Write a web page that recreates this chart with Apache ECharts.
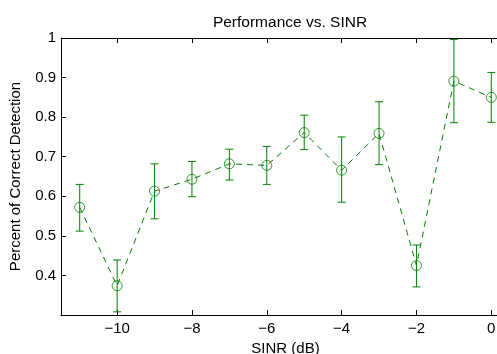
<!DOCTYPE html>
<html>
<head>
<meta charset="utf-8">
<script src="https://cdn.jsdelivr.net/npm/echarts@6/dist/echarts.min.js"></script>
<style>
html,body{margin:0;padding:0;background:#fff;}
#chart{width:497px;height:354px;}
</style>
</head>
<body>
<div id="chart"></div>
<script>
// Data
var sinr = [-11, -10, -9, -8, -7, -6, -5, -4, -3, -2, -1, 0];
var meanDetection = [0.572, 0.374, 0.613, 0.643, 0.682, 0.678, 0.761, 0.666, 0.759, 0.425, 0.891, 0.850];
var upperBound = [0.630, 0.439, 0.682, 0.688, 0.719, 0.726, 0.805, 0.750, 0.839, 0.477, 0.996, 0.913];
var lowerBound = [0.512, 0.308, 0.543, 0.599, 0.641, 0.630, 0.718, 0.585, 0.680, 0.371, 0.786, 0.787];
var xTickValues = [-10, -8, -6, -4, -2, 0];
var yTickValues = [0.4, 0.5, 0.6, 0.7, 0.8, 0.9, 1];

var GREEN = '#008000';
var FONT = 'Liberation Sans';

var lineData = sinr.map(function (x, i) { return [x, meanDetection[i]]; });
var errData = sinr.map(function (x, i) { return [x, lowerBound[i], upperBound[i]]; });

function fmtX(v) { return String(v).replace('-', '\u2212'); }
function fmtY(v) {
  var r = Math.round(v * 10) / 10;
  if (yTickValues.indexOf(r) < 0) return '';
  return r === 1 ? '1' : r.toFixed(1);
}

var chart = echarts.init(document.getElementById('chart'), null, {renderer: 'canvas'});
chart.setOption({
  animation: false,
  backgroundColor: '#fff',
  title: {
    text: 'Performance vs. SINR',
    left: 285,
    top: 10,
    textAlign: 'center',
    textStyle: {fontFamily: FONT, fontSize: 15.5, fontWeight: 'normal', color: '#000'}
  },
  grid: {left: 61, top: 38, right: -13, bottom: 39, containLabel: false, outerBoundsMode: 'none'},
  xAxis: [{
    type: 'value', min: -11.5, max: 0.5, position: 'bottom',
    name: 'SINR (dB)', nameLocation: 'middle', nameGap: 24,
    nameTextStyle: {fontFamily: FONT, fontSize: 15, color: '#000'},
    axisLine: {show: true, onZero: false, lineStyle: {color: '#000', width: 1}},
    axisTick: {show: true, inside: true, length: 5, customValues: xTickValues, lineStyle: {color: '#000'}},
    axisLabel: {show: true, customValues: xTickValues, formatter: fmtX, margin: 6,
      fontFamily: FONT, fontSize: 15, color: '#000'},
    splitLine: {show: false}
  }, {
    type: 'value', min: -11.5, max: 0.5, position: 'top',
    axisLine: {show: true, onZero: false, lineStyle: {color: '#000', width: 1}},
    axisTick: {show: true, inside: true, length: 5, customValues: xTickValues, lineStyle: {color: '#000'}},
    axisLabel: {show: false},
    splitLine: {show: false}
  }],
  yAxis: [{
    type: 'value', min: 0.3, max: 1, interval: 0.1, position: 'left',
    name: 'Percent of Correct Detection', nameLocation: 'middle', nameGap: 38,
    nameTextStyle: {fontFamily: FONT, fontSize: 15, color: '#000'},
    axisLine: {show: true, onZero: false, lineStyle: {color: '#000', width: 1}},
    axisTick: {show: true, inside: true, length: 5, lineStyle: {color: '#000'}},
    axisLabel: {show: true, formatter: fmtY, margin: 5, fontFamily: FONT, fontSize: 15, color: '#000'},
    splitLine: {show: false}
  }, {
    type: 'value', min: 0.3, max: 1, interval: 0.1, position: 'right',
    axisLine: {show: true, onZero: false, lineStyle: {color: '#000', width: 1}},
    axisTick: {show: true, inside: true, length: 5, lineStyle: {color: '#000'}},
    axisLabel: {show: false},
    splitLine: {show: false}
  }],
  series: [{
    type: 'line',
    data: lineData,
    symbol: 'none',
    lineStyle: {color: GREEN, width: 1, type: [6, 5]},
    z: 2
  }, {
    type: 'custom',
    data: errData,
    encode: {x: 0, y: [1, 2]},
    renderItem: function (params, api) {
      var x = api.value(0);
      var lo = api.coord([x, api.value(1)]);
      var hi = api.coord([x, api.value(2)]);
      var hw = 4;
      var style = {stroke: GREEN, lineWidth: 1, fill: 'none'};
      return {
        type: 'group',
        children: [
          {type: 'line', shape: {x1: lo[0], y1: lo[1], x2: hi[0], y2: hi[1]}, style: style},
          {type: 'line', shape: {x1: lo[0] - hw, y1: lo[1], x2: lo[0] + hw, y2: lo[1]}, style: style},
          {type: 'line', shape: {x1: hi[0] - hw, y1: hi[1], x2: hi[0] + hw, y2: hi[1]}, style: style}
        ]
      };
    },
    z: 3
  }, {
    type: 'scatter',
    data: lineData,
    symbol: 'circle',
    symbolSize: 10,
    itemStyle: {color: 'rgba(0,0,0,0)', borderColor: GREEN, borderWidth: 1},
    z: 4
  }]
});
</script>
</body>
</html>
